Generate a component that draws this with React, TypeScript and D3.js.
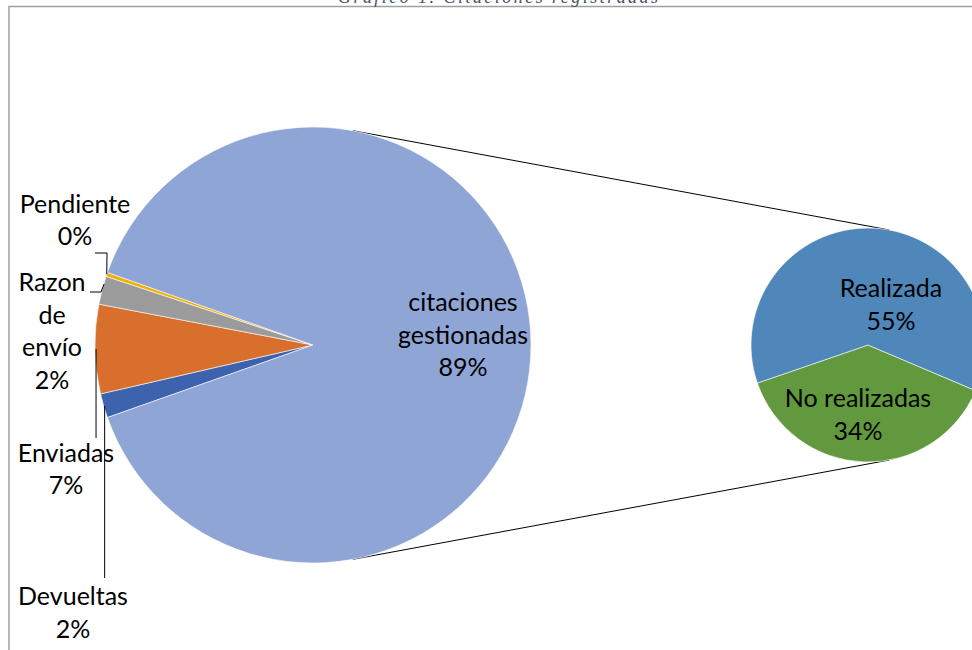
import React from "react";
import * as d3 from "d3";

const mainLabels = ["Devueltas", "Enviadas", "Razon de envío", "Pendiente", "citaciones gestionadas"];
const mainValues = [1.8, 6.6, 2.1, 0.3, 89.2];
const mainColors = ["#3D63AE", "#D86F2C", "#9B9B9B", "#F0B000", "#8FA5D5"];

const subLabels = ["No realizadas", "Realizada"];
const subValues = [34.2, 55.0];
const subColors = ["#62993E", "#4F87BB"];

const title = "Gráfico 1. Citaciones registradas";

const W = 972, H = 650;
const c1 = { x: 313, y: 345, r: 218 };
const c2 = { x: 868, y: 345, r: 117 };
const FONT = "Lato, 'Open Sans', sans-serif";
const FS = 25;
const LH = 32.7;

const total = d3.sum(mainValues);
const pct = (v: number) => d3.format(".0%")(v / total);

// label layouts (text centre x, first baseline y) — layout only
const mainLabelLayout = [
  { x: 73, y: 605, lines: ["Devueltas"] },
  { x: 66, y: 461.5, lines: ["Enviadas"] },
  { x: 52, y: 291, lines: ["Razon", "de", "envío"] },
  { x: 75, y: 212.5, lines: ["Pendiente"] },
  { x: 463, y: 311, lines: ["citaciones", "gestionadas"] },
];
const subLabelLayout = [
  { x: 858, y: 407, lines: ["No realizadas"] },
  { x: 891, y: 297, lines: ["Realizada"] },
];

export default function App() {
  const others = total - mainValues[mainValues.length - 1];
  const gest = mainValues[mainValues.length - 1];
  const s1 = Math.PI / 2 + 2 * Math.PI - (2 * Math.PI * others) / total - (Math.PI * gest) / total;
  const pie1 = d3.pie<number>().sort(null).startAngle(s1).endAngle(s1 + 2 * Math.PI);
  const arcs1 = pie1(mainValues);
  const arc1 = d3.arc<d3.PieArcDatum<number>>().innerRadius(0).outerRadius(c1.r);

  const subTotal = d3.sum(subValues);
  const span0 = (2 * Math.PI * subValues[0]) / subTotal;
  const s2 = (182 * Math.PI) / 180 - span0 / 2;
  const pie2 = d3.pie<number>().sort(null).startAngle(s2).endAngle(s2 + 2 * Math.PI);
  const arcs2 = pie2(subValues);
  const arc2 = d3.arc<d3.PieArcDatum<number>>().innerRadius(0).outerRadius(c2.r);

  // external common tangents
  const d = c2.x - c1.x;
  const nx = (c1.r - c2.r) / d;
  const ny = Math.sqrt(1 - nx * nx);
  const tangents = [-1, 1].map((sgn) => ({
    x1: c1.x + c1.r * nx,
    y1: c1.y + sgn * c1.r * ny,
    x2: c2.x + c2.r * nx,
    y2: c2.y + sgn * c2.r * ny,
  }));

  const edge = (a: d3.PieArcDatum<number>) => {
    const m = (a.startAngle + a.endAngle) / 2;
    return [c1.x + c1.r * Math.sin(m), c1.y - c1.r * Math.cos(m)];
  };

  // leader lines
  const eD = edge(arcs1[0]);
  const eE = edge(arcs1[1]);
  const eR = edge(arcs1[2]);
  const eP = edge(arcs1[3]);
  const leaders = [
    `M${eD[0] + 1},${eD[1]} L${eD[0] + 1},578`,
    `M${eE[0] + 1},${eE[1]} L${eE[0] + 1},438`,
    `M90,292 L101,292 L${eR[0] + 2},${eR[1] - 6}`,
    `M95,253 L107,253 L${eP[0]},${eP[1]}`,
  ];

  return (
    <svg width={W} height={H} style={{ position: "absolute", left: 0, top: 0, background: "#fff" }}>
      <rect x={9} y={6.5} width={W + 20} height={H + 20} fill="#fff" stroke="#A0A0A0" strokeWidth={1.5} />
      <text x={498} y={3} textAnchor="middle" fontFamily="'Liberation Serif', serif" fontStyle="italic" fontSize={18} fill="#44546A" textLength={320}>
        {title}
      </text>
      {tangents.map((t, i) => (
        <line key={i} x1={t.x1} y1={t.y1} x2={t.x2} y2={t.y2} stroke="#000" strokeWidth={1} />
      ))}
      <g transform={`translate(${c1.x},${c1.y})`}>
        {arcs1.map((a, i) => (
          <path key={i} d={arc1(a) || ""} fill={mainColors[i]} stroke="#fff" strokeWidth={0.6} />
        ))}
      </g>
      <g transform={`translate(${c2.x},${c2.y})`}>
        {arcs2.map((a, i) => (
          <path key={i} d={arc2(a) || ""} fill={subColors[i]} stroke="#fff" strokeWidth={0.6} />
        ))}
      </g>
      {leaders.map((p, i) => (
        <path key={i} d={p} fill="none" stroke="#000" strokeWidth={1} />
      ))}
      {mainLabelLayout.map((l, i) => (
        <text key={i} x={l.x} y={l.y} textAnchor="middle" fontFamily={FONT} fontSize={FS} fill="#000">
          {l.lines.map((s, j) => (
            <tspan key={j} x={l.x} y={l.y + j * LH}>{s}</tspan>
          ))}
          <tspan x={l.x} y={l.y + l.lines.length * LH}>{pct(mainValues[i])}</tspan>
        </text>
      ))}
      {subLabelLayout.map((l, i) => (
        <text key={i} x={l.x} y={l.y} textAnchor="middle" fontFamily={FONT} fontSize={FS} fill="#000">
          {l.lines.map((s, j) => (
            <tspan key={j} x={l.x} y={l.y + j * LH}>{s}</tspan>
          ))}
          <tspan x={l.x} y={l.y + l.lines.length * LH}>{pct(subValues[i])}</tspan>
        </text>
      ))}
    </svg>
  );
}
